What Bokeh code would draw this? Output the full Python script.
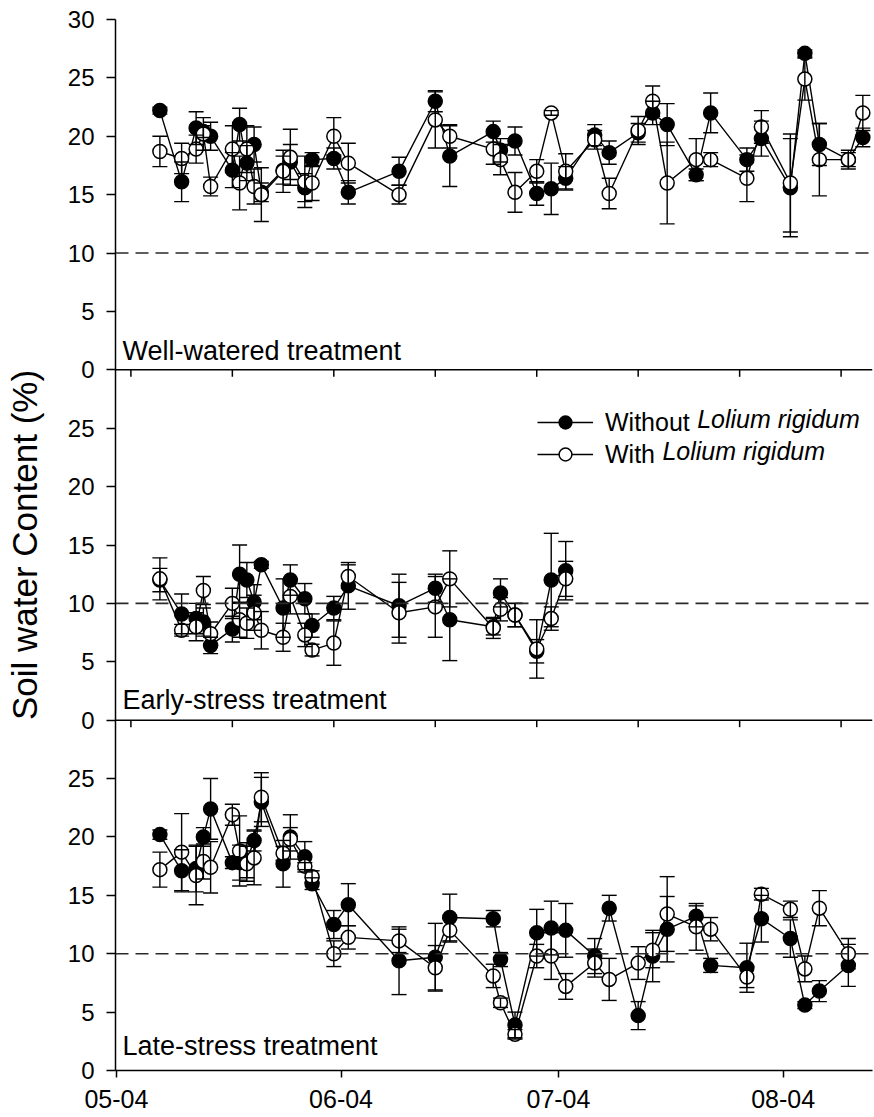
import pandas as pd
from bokeh.plotting import figure
from bokeh.models import (Range1d, FixedTicker, DatetimeTickFormatter, Span, Whisker,
                          TeeHead, ColumnDataSource, Label, Legend, LegendItem)
from bokeh.embed import file_html
from bokeh.resources import INLINE

FONT = "Liberation Sans"

# ---------------- data ----------------
sample_dates = ["2004-05-07", "2004-05-10", "2004-05-12", "2004-05-13", "2004-05-14",
                "2004-05-17", "2004-05-18", "2004-05-19", "2004-05-20", "2004-05-21",
                "2004-05-24", "2004-05-25", "2004-05-27", "2004-05-28", "2004-05-31",
                "2004-06-02", "2004-06-09", "2004-06-14", "2004-06-16", "2004-06-22",
                "2004-06-23", "2004-06-25", "2004-06-28", "2004-06-30", "2004-07-02",
                "2004-07-06", "2004-07-08", "2004-07-12", "2004-07-14", "2004-07-16",
                "2004-07-20", "2004-07-22", "2004-07-27", "2004-07-29", "2004-08-02",
                "2004-08-04", "2004-08-06", "2004-08-10", "2004-08-12"]

# Well-watered treatment (39 dates)
ww_without = [22.2, 16.1, 20.7, 20.4, 20.0, 17.1, 21.0, 17.7, 19.3, 15.2, 17.1, 17.8, 15.6,
              18.0, 18.1, 15.2, 17.0, 23.0, 18.3, 20.4, 18.8, 19.6, 15.1, 15.5, 16.4, 20.1,
              18.6, 20.3, 22.0, 21.0, 16.7, 22.0, 18.0, 19.8, 15.6, 27.1, 19.3, 18.0, 19.9]
ww_without_se = [0.3, 1.7, 1.4, 0.5, 1.2, 1.5, 1.4, 1.5, 1.5, 0.8, 1.2, 1.5, 1.2, 0.6, 0.9,
                 1.0, 1.2, 0.9, 2.6, 0.9, 1.0, 1.2, 1.0, 2.2, 1.0, 0.9, 1.0, 0.8, 1.0, 1.8,
                 0.5, 1.7, 1.0, 1.5, 4.2, 0.3, 1.8, 0.8, 0.8]
ww_with = [18.7, 18.1, 18.9, 20.2, 15.7, 18.9, 16.0, 18.9, 15.7, 15.0, 17.0, 18.2, 16.1,
           16.0, 20.0, 17.7, 15.0, 21.4, 20.0, 18.9, 18.0, 15.2, 17.0, 22.0, 17.0, 19.7,
           15.1, 20.5, 23.0, 16.0, 18.0, 18.0, 16.4, 20.8, 16.0, 24.9, 18.0, 18.0, 22.0]
ww_with_se = [1.3, 1.3, 1.2, 1.4, 0.8, 2.0, 2.3, 2.0, 1.5, 2.3, 1.8, 2.4, 2.2, 1.5, 1.6,
              1.7, 0.8, 2.4, 1.0, 1.3, 1.3, 1.7, 1.0, 0.2, 1.5, 0.8, 1.3, 1.2, 1.3, 3.5,
              1.8, 0.6, 2.0, 1.4, 4.2, 1.8, 3.1, 0.6, 1.5]

# Early-stress treatment (first 25 dates)
es_without = [12.0, 9.1, 8.7, 8.4, 6.4, 7.8, 12.5, 12.0, 10.1, 13.3, 9.6, 12.0, 10.4,
              8.1, 9.6, 11.5, 9.8, 11.3, 8.6, 8.0, 10.9, 9.0, 5.9, 12.0, 12.8]
es_without_se = [1.0, 1.7, 1.3, 1.2, 0.7, 1.1, 2.5, 1.5, 1.5, 0.3, 2.5, 1.3, 1.3, 1.0,
                 1.0, 2.0, 2.7, 1.2, 3.5, 0.7, 1.2, 1.0, 1.0, 4.0, 2.5]
es_with = [12.1, 7.7, 8.0, 11.1, 7.4, 10.0, 8.6, 8.3, 9.2, 7.7, 7.1, 10.6, 7.3, 6.0, 6.6,
           12.3, 9.2, 9.7, 12.1, 7.9, 9.5, 9.0, 6.1, 8.7, 12.1]
es_with_se = [1.8, 0.5, 1.2, 1.2, 1.0, 1.3, 1.5, 1.3, 1.5, 1.6, 1.2, 1.5, 1.0, 0.5, 1.9,
              1.0, 2.6, 2.6, 2.4, 0.9, 1.0, 1.0, 2.5, 1.0, 1.5]

# Late-stress treatment (first 38 dates)
ls_without = [20.2, 17.1, 17.3, 20.0, 22.4, 17.8, 17.8, 18.0, 19.7, 23.0, 17.7, 20.0, 18.3,
              16.0, 12.5, 14.2, 9.4, 9.7, 13.1, 13.0, 9.5, 3.9, 11.8, 12.2, 12.0, 9.8, 13.9,
              4.7, 9.8, 12.1, 13.2, 9.0, 8.8, 13.0, 11.3, 5.6, 6.8, 9.0]
ls_without_se = [0.4, 1.8, 2.0, 0.8, 2.6, 0.5, 1.5, 1.5, 0.9, 2.1, 2.0, 1.9, 1.3, 0.5, 1.2,
                 1.8, 2.9, 2.9, 2.0, 0.7, 0.6, 1.1, 2.0, 2.3, 2.3, 1.5, 1.1, 1.2, 2.2, 2.8,
                 0.9, 0.6, 2.1, 2.0, 1.6, 0.3, 0.9, 1.8]
ls_with = [17.2, 18.7, 16.7, 17.9, 17.4, 21.9, 18.8, 17.7, 18.2, 23.4, 18.6, 19.8, 17.5,
           16.6, 10.0, 11.4, 11.1, 8.8, 12.0, 8.1, 5.8, 3.1, 9.8, 9.8, 7.2, 9.2, 7.8, 9.2,
           10.3, 13.4, 12.3, 12.1, 8.0, 15.1, 13.8, 8.7, 13.9, 10.0]
ls_with_se = [1.5, 3.3, 2.5, 1.5, 2.2, 0.9, 3.0, 1.5, 2.3, 2.1, 0.6, 1.0, 0.3, 0.5, 1.1,
              1.0, 1.0, 1.9, 1.0, 1.0, 0.4, 0.4, 1.0, 2.0, 1.1, 1.2, 1.8, 1.4, 1.5, 3.2,
              2.0, 1.0, 0.9, 0.5, 0.7, 1.1, 1.5, 1.3]

panel_names = ["Well-watered treatment", "Early-stress treatment", "Late-stress treatment"]
series_names = ["Without", "With"]
species = "Lolium rigidum"
month_ticks = ["2004-05-01", "2004-06-01", "2004-07-01", "2004-08-01"]
boundary_ticks = ["2004-05-03", "2004-05-17", "2004-05-31", "2004-06-14",
                  "2004-06-28", "2004-07-12", "2004-07-26", "2004-08-09"]
panel_y_ticks = [0, 5, 10, 15, 20, 25]
panel_y_max = 30
threshold = 10
x_start = "2004-04-30 21:00"
x_end = "2004-08-13 08:00"

# ---------------- figure ----------------
to_ms = lambda s: pd.Timestamp(s).value / 1e6

p = figure(width=874, height=1117, x_axis_type="datetime",
           x_range=Range1d(to_ms(x_start), to_ms(x_end)),
           y_range=Range1d(0, 3 * panel_y_max),
           min_border_left=115, min_border_right=2, min_border_top=19,
           min_border_bottom=47, output_backend="svg", toolbar_location=None)
p.extra_y_ranges = {
    "ww": Range1d(-2 * panel_y_max, panel_y_max),
    "es": Range1d(-panel_y_max, 2 * panel_y_max),
    "ls": Range1d(0, 3 * panel_y_max),
}
p.outline_line_color = None
p.xgrid.visible = False
p.ygrid.visible = False
p.background_fill_color = "white"
p.border_fill_color = "white"

# y axis: three stacked 0-30 scales
ticks, overrides = [], {}
for k in range(3):
    for v in panel_y_ticks:
        ticks.append(v + k * panel_y_max)
        overrides[v + k * panel_y_max] = str(v)
ticks.append(3 * panel_y_max)
overrides[3 * panel_y_max] = str(panel_y_max)
yax = p.yaxis[0]
yax.ticker = FixedTicker(ticks=ticks)
yax.major_label_overrides = overrides
yax.major_tick_out = 9
yax.major_tick_in = 0
yax.minor_tick_line_color = None
yax.axis_line_width = 1.5
yax.major_tick_line_width = 1.5
yax.major_label_text_font = FONT
yax.major_label_text_font_size = "24px"
yax.major_label_text_color = "black"
yax.major_label_standoff = 12
yax.axis_label = "Soil water Content (%)"
yax.axis_label_text_font = FONT
yax.axis_label_text_font_size = "35px"
yax.axis_label_text_font_style = "normal"
yax.axis_label_text_color = "black"
yax.axis_label_standoff = 21

xax = p.xaxis[0]
xax.ticker = FixedTicker(ticks=[to_ms(d) for d in month_ticks])
fmt = "%m-%y"
xax.formatter = DatetimeTickFormatter(days=fmt, months=fmt, years=fmt, hours=fmt,
                                      hourmin=fmt, minutes=fmt, minsec=fmt, seconds=fmt,
                                      milliseconds=fmt, microseconds=fmt)
xax.major_tick_out = 7
xax.major_tick_in = 0
xax.minor_tick_line_color = None
xax.axis_line_width = 1.5
xax.major_tick_line_width = 1.5
xax.major_label_text_font = FONT
xax.major_label_text_font_size = "25px"
xax.major_label_text_color = "black"
xax.major_label_standoff = 12

# panel boundaries and their small date ticks
bt = pd.to_datetime(boundary_ticks)
for k in (1, 2):
    p.add_layout(Span(location=k * panel_y_max, dimension="width",
                      line_color="black", line_width=1.5))
    p.segment(x0=bt, x1=bt, y0=[k * panel_y_max] * len(bt),
              y1=[k * panel_y_max - 0.6] * len(bt), line_color="black", line_width=1.5)

panels = [
    ("ww", ww_without, ww_without_se, ww_with, ww_with_se, 19),
    ("es", es_without, es_without_se, es_with, es_with_se, 20),
    ("ls", ls_without, ls_without_se, ls_with, ls_with_se, 25),
]

legend_renderers = []
for (rng, a, ase, b, bse, lab_off), name in zip(panels, panel_names):
    n = len(a)
    x = pd.to_datetime(sample_dates[:n])
    src = ColumnDataSource(dict(
        x=x, a=a, alo=[v - e for v, e in zip(a, ase)], ahi=[v + e for v, e in zip(a, ase)],
        b=b, blo=[v - e for v, e in zip(b, bse)], bhi=[v + e for v, e in zip(b, bse)]))
    p.add_layout(Span(location=threshold, dimension="width", y_range_name=rng,
                      line_color="#2a2a2a", line_width=1.6, line_dash="13 7"))
    rend = []
    for col, fill in (("a", "black"), ("b", "white")):
        p.add_layout(Whisker(
            base="x", upper=col + "hi", lower=col + "lo", source=src, dimension="height",
            y_range_name=rng, line_color="black", line_width=1.4, level="glyph",
            upper_head=TeeHead(size=15, line_color="black", line_width=1.4),
            lower_head=TeeHead(size=15, line_color="black", line_width=1.4)))
        ln = p.line("x", col, source=src, y_range_name=rng, line_color="black",
                    line_width=1.4)
        sc = p.scatter("x", col, source=src, y_range_name=rng, size=14,
                       fill_color=fill, line_color="black", line_width=1.5)
        rend.append((ln, sc))
    if rng == "es":
        legend_renderers = rend
    p.add_layout(Label(x=to_ms(x_start), y=0, y_range_name=rng, x_offset=7, y_offset=lab_off,
                       text=name, text_font=FONT, text_font_size="27px",
                       text_baseline="alphabetic", text_align="left", text_color="black"))

# legend
LEG_FS = 25
legend = Legend(items=[LegendItem(label=nm + " ", renderers=list(r))
                       for nm, r in zip(series_names, legend_renderers)],
                location=(422, 600), glyph_width=56, glyph_height=32, spacing=0,
                label_standoff=12, padding=0, margin=0, border_line_color=None,
                background_fill_alpha=0, label_text_font=FONT, label_text_color="black",
                label_text_font_size=f"{LEG_FS}px", label_text_baseline="middle")
p.add_layout(legend, "center")

# italic species name after each legend label
word_em = {"Without": 3.39, "With": 2.0}
for i, nm in enumerate(series_names):
    p.add_layout(Label(x=490 + (word_em[nm] + 0.278) * LEG_FS, y=652 - 32 * i,
                       x_units="screen", y_units="screen", text=species,
                       text_font=FONT, text_font_size=f"{LEG_FS}px", text_font_style="italic",
                       text_baseline="middle", text_align="left", text_color="black"))

open("out.html", "w").write(file_html(p, INLINE))
